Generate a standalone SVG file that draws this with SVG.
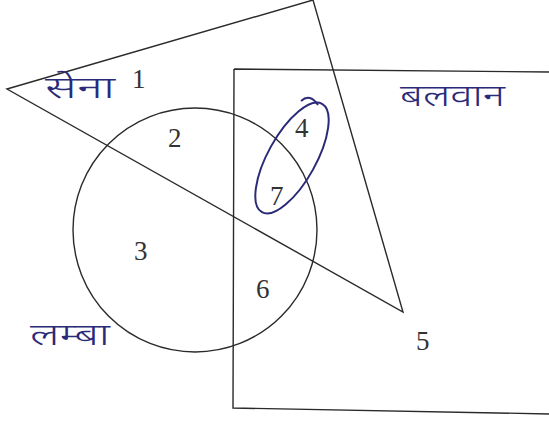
<svg xmlns="http://www.w3.org/2000/svg" width="549" height="423" viewBox="0 0 549 423">
<style>
.ln{fill:none;stroke:#2a2a2a;stroke-width:1.4;stroke-linejoin:miter}
.ink{fill:none;stroke:#2b2a78;stroke-width:2}
.num{font-family:"Liberation Serif",serif;font-size:27px;fill:#333}
.hw{font-family:"Noto Sans Devanagari","Lohit Devanagari","FreeSans","Noto Sans",sans-serif;font-size:30px;font-weight:300;fill:#2b2a78}
</style>
<rect width="549" height="423" fill="#fff"/>
<g id="connectors"></g>
<g id="rect-balwan">
<path class="ln" d="M234,69 L552,72 M234,69 L233,408 L552,414"/>
<text class="hw" x="400" y="106" textLength="105" lengthAdjust="spacingAndGlyphs">बलवान</text>
</g>
<g id="triangle-sena">
<polygon class="ln" points="7,89 313,0 403,312"/>
<text class="hw" x="45" y="98" textLength="70" lengthAdjust="spacingAndGlyphs">सेना</text>
</g>
<g id="circle-lamba">
<circle class="ln" cx="195" cy="230" r="122"/>
<text class="hw" x="30" y="345" textLength="80" lengthAdjust="spacingAndGlyphs">लम्बा</text>
</g>
<g id="ellipse">
<ellipse class="ink" cx="292" cy="158" rx="62" ry="24" transform="rotate(-61 292 158)"/>
<path class="ink" d="M301,101 Q310,93 318,105"/>
</g>
<g id="numbers">
<text class="num" x="132" y="88">1</text>
<text class="num" x="168" y="147">2</text>
<text class="num" x="134" y="260">3</text>
<text class="num" x="295" y="137">4</text>
<text class="num" x="416" y="350">5</text>
<text class="num" x="256" y="298">6</text>
<text class="num" x="270" y="205">7</text>
</g>
</svg>
